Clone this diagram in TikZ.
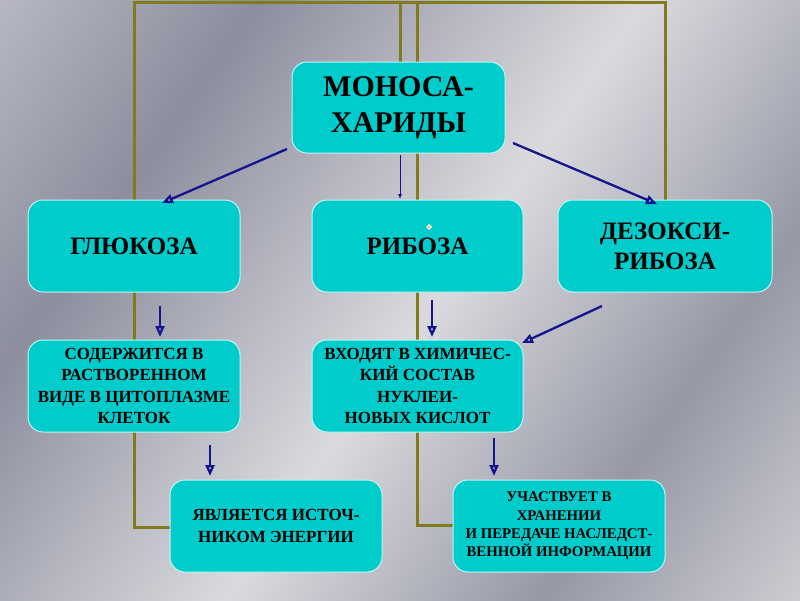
\documentclass[tikz,border=0pt]{standalone}
\usepackage{fontspec}
\setmainfont{Liberation Serif}
\usetikzlibrary{arrows.meta,shapes.geometric}
\definecolor{boxfill}{RGB}{0,204,204}
\definecolor{boxline}{RGB}{190,245,245}
\definecolor{olive}{RGB}{128,124,30}
\definecolor{arrblue}{RGB}{20,20,140}
\definecolor{bgA}{RGB}{226,226,230}
\definecolor{bgB}{RGB}{140,142,158}
\definecolor{bgC}{RGB}{218,218,222}
\definecolor{bgD}{RGB}{150,152,166}
\definecolor{bgE}{RGB}{205,205,210}
\pgfdeclarehorizontalshading{bgshade}{100bp}{color(0bp)=(bgA); color(30bp)=(bgB); color(52bp)=(bgC); color(70bp)=(bgD); color(85bp)=(bgE); color(100bp)=(bgB)}
\tikzset{
  box/.style={draw=boxline, line width=1pt, fill=boxfill, rounded corners=15pt,
    minimum width=212pt, minimum height=92pt, align=center, text=black, inner sep=2pt},
  bigtxt/.style={font=\bfseries\fontsize{30}{36}\selectfont},
  midtxt/.style={font=\bfseries\fontsize{25}{30}\selectfont},
  smalltxt/.style={font=\bfseries\fontsize{17}{21.5}\selectfont},
  tinytxt/.style={font=\bfseries\fontsize{14.8}{18.3}\selectfont},
  oline/.style={draw=olive, line width=3pt},
  barrow/.style={draw=arrblue, line width=2.3pt, -{Triangle[open, length=11pt, width=9pt]}},
  thinarrow/.style={draw=arrblue, line width=0.8pt, -{Latex[length=5pt, width=4pt]}}
}
\begin{document}
\begin{tikzpicture}[x=1pt,y=-1pt]
\useasboundingbox (0,0) rectangle (800,600);
\shade[shading=bgshade, shading angle=-35] (0,0) rectangle (800,600);
% olive frame lines (behind the boxes)
\coordinate (tl) at (134,2);
\coordinate (tr) at (665,2);
\coordinate (tm1) at (400,2);
\coordinate (tm2) at (417,2);
\coordinate (lb) at (134,527);
\coordinate (mb) at (417,525);
\draw[oline] (170,527) -- (lb) -- (tl) -- (tr) -- (665,200);
\draw[oline] (453,525) -- (mb) -- (tm2);
\draw[oline] (tm1) -- (400,62);
% boxes
\node[box, bigtxt, minimum width=213pt, minimum height=91pt] (mono) at (398.5,107.5) {МОНОСА-\\ХАРИДЫ};
\node[box, midtxt] (gluc) at (134,246) {ГЛЮКОЗА};
\node[box, midtxt, minimum width=211pt] (ribo) at (417.5,246) {РИБОЗА};
\node[box, midtxt, minimum width=214pt] (deoxy) at (665,246) {ДЕЗОКСИ-\\РИБОЗА};
\node[box, smalltxt] (sod) at (134,386) {СОДЕРЖИТСЯ В\\РАСТВОРЕННОМ\\ВИДЕ В ЦИТОПЛАЗМЕ\\КЛЕТОК};
\node[box, smalltxt, minimum width=211pt] (vhod) at (417.5,386) {ВХОДЯТ В ХИМИЧЕС-\\КИЙ СОСТАВ\\НУКЛЕИ-\\НОВЫХ КИСЛОТ};
\node[box, smalltxt] (yavl) at (276,526) {ЯВЛЯЕТСЯ ИСТОЧ-\\НИКОМ ЭНЕРГИИ};
\node[box, tinytxt] (uch) at (559,526) {УЧАСТВУЕТ В\\ХРАНЕНИИ\\ И ПЕРЕДАЧЕ НАСЛЕДСТ-\\ВЕННОЙ ИНФОРМАЦИИ};
% small mark inside РИБОЗА
\node[diamond, draw=white, line width=0.8pt, fill=orange!60, inner sep=1.3pt] (mark) at (429,227) {};
% arrows
\coordinate (a1s) at (287,149); \coordinate (a1e) at (162,203);
\coordinate (a2s) at (400,155); \coordinate (a2e) at (400,199);
\coordinate (a3s) at (513,143); \coordinate (a3e) at (657,204);
\coordinate (a4s) at (602,306); \coordinate (a4e) at (522,343);
\coordinate (a5s) at (160,306); \coordinate (a5e) at (160,337);
\coordinate (a6s) at (432,300); \coordinate (a6e) at (432,337);
\coordinate (a7s) at (210,445); \coordinate (a7e) at (210,476);
\coordinate (a8s) at (494,438); \coordinate (a8e) at (494,476);
\draw[barrow] (a1s) -- (a1e);
\draw[thinarrow] (a2s) -- (a2e);
\draw[barrow] (a3s) -- (a3e);
\draw[barrow] (a4s) -- (a4e);
\draw[barrow] (a5s) -- (a5e);
\draw[barrow] (a6s) -- (a6e);
\draw[barrow] (a7s) -- (a7e);
\draw[barrow] (a8s) -- (a8e);
\end{tikzpicture}
\end{document}
